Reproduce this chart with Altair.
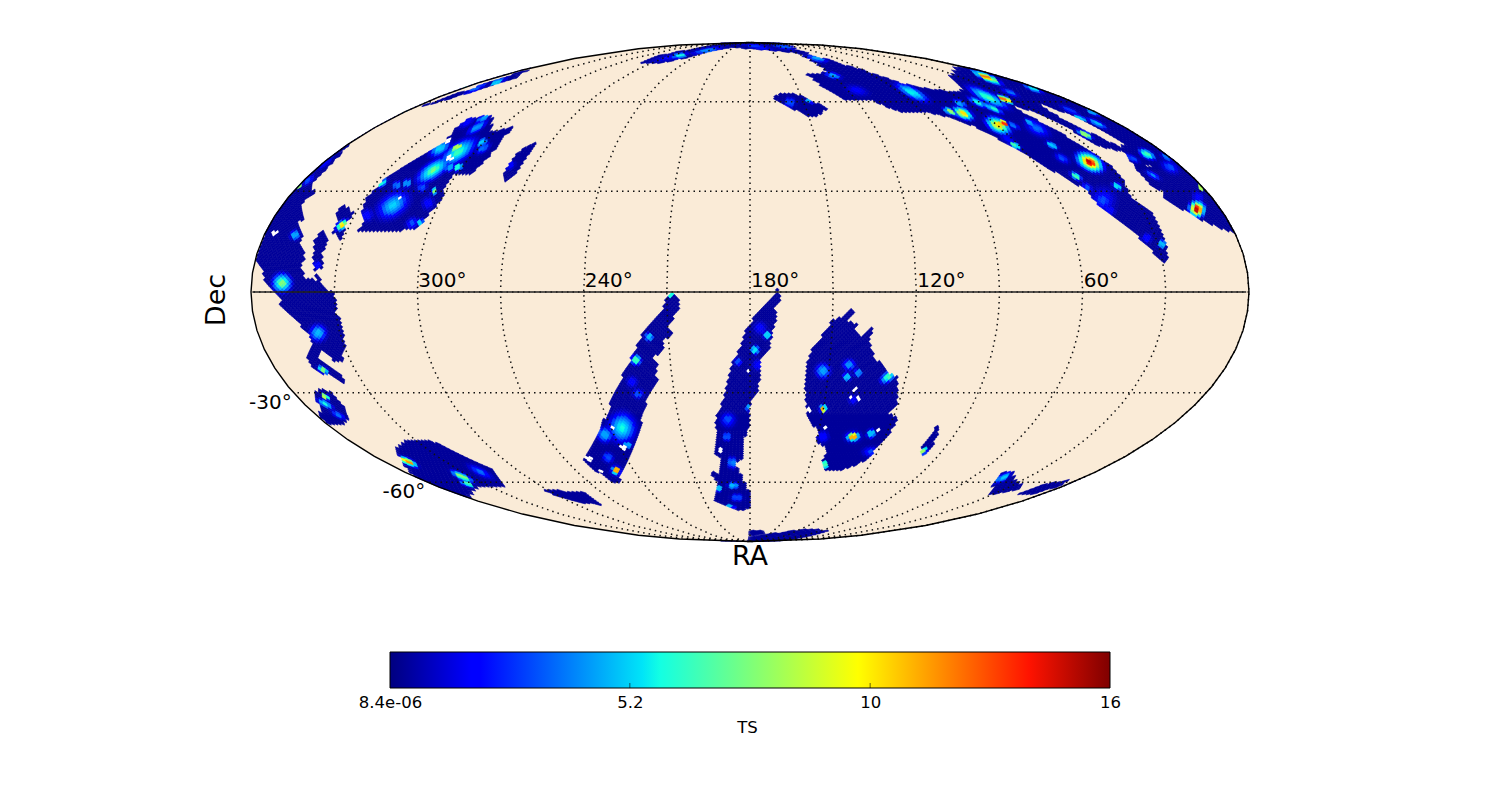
import math
import altair as alt

# Sky map. Plane units: origin at (RA 180, Dec 0), x towards low RA,
# y towards the north; the Mollweide ellipse has half axes 499 and 250 in these units.
HALF_W, HALF_H = 499.0, 250.0
NSIDE = 64

west_limb = [(-403,146),(-420,127),(-435,112),(-439,105),(-435,100),(-448,89),(-447,72),(-452,70),(-448,54),(-450,49),(-445,35),(-450,25),(-445,14),(-435,12),(-417,-1),(-414,-8),(-414,-21),(-408,-31),(-405,-55),(-408,-69),(-418,-69),(-420,-63),(-427,-58),(-432,-66),(-412,-80),(-406,-88),(-407,-91),(-420,-83),(-430,-81),(-438,-75),(-443,-65),(-437,-51),(-442,-41),(-457,-26),(-471,-11),(-467,-8),(-477,0),(-487,12),(-485,15),(-492,30),(-510,37),(-505,55),(-495,72),(-485,87),(-472,102),(-458,115),(-444,127),(-430,137)]
column_b = [(-428,61),(-422,50),(-428,39),(-427,25),(-435,22),(-437,35),(-435,52)]
nub_b = [(-435,19),(-427,12),(-433,7)]
blob_c = [(-407,87),(-397,80),(-404,67),(-409,51),(-417,60),(-412,72),(-415,78)]
field_d = [(-391,62),(-362,61),(-333,63),(-307,95),(-305,105),(-297,117),(-280,117),(-263,134),(-238,165),(-260,160),(-258,177),(-280,174),(-293,165),(-303,152),(-340,129),(-367,112),(-383,94),(-388,80),(-387,70)]
sliver_e = [(-213,151),(-233,139),(-247,119),(-245,110),(-233,120)]
streak_f = [(-332,185),(-223,223),(-240,212),(-303,193)]
north_band = [(-107,230),(-90,237),(-50,245),(0,252),(23,252),(63,237),(90,229),(123,219),(150,209),(180,203),(205,200),(213,202),(202,215),(208,225),(225,225),(275,212),(332,192),(375,172),(425,142),(460,112),(485,82),(505,52),(508,44),(482,60),(460,68),(447,74),(413,95),(413,102),(403,104),(390,119),(375,139),(370,142),(347,147),(317,165),(285,180),(265,187),(265,184),(283,174),(303,164),(330,147),(343,139),(360,127),(373,112),(383,92),(400,82),(410,65),(417,45),(417,32),(413,30),(387,57),(360,79),(343,92),(337,102),(297,125),(257,149),(223,167),(193,177),(177,180),(157,180),(140,184),(123,192),(97,192),(90,195),(72,207),(57,219),(70,219),(78,221),(65,230),(47,240),(20,242),(0,244),(-20,245),(-55,237),(-85,230)]
island_i = [(23,194),(33,199),(50,197),(77,184),(67,177),(60,175),(43,184)]
blob_j = [(-428,-98),(-417,-100),(-415,-105),(-405,-115),(-403,-126),(-407,-133),(-422,-131),(-428,-126),(-435,-101)]
field_k = [(-353,-158),(-342,-148),(-313,-151),(-280,-168),(-257,-178),(-247,-194),(-270,-195),(-278,-198),(-282,-206),(-330,-188),(-340,-181),(-345,-173)]
sliver_l = [(-210,-198),(-167,-201),(-149,-213),(-167,-211),(-190,-205)]
stripe_m = [(-78,-1),(-72,-6),(-70,-16),(-77,-26),(-82,-36),(-78,-41),(-87,-50),(-85,-56),(-97,-66),(-92,-73),(-95,-81),(-92,-88),(-103,-106),(-105,-118),(-117,-153),(-132,-190),(-137,-190),(-160,-175),(-166,-167),(-148,-135),(-142,-120),(-138,-108),(-130,-90),(-110,-48),(-107,-41),(-87,-16),(-88,-13)]
stripe_n = [(28,3),(31,-6),(25,-16),(27,-26),(22,-41),(20,-55),(10,-66),(10,-86),(7,-100),(0,-113),(0,-133),(-7,-150),(-7,-165),(-15,-173),(-8,-186),(-1,-201),(0,-216),(-10,-220),(-35,-210),(-32,-190),(-38,-183),(-37,-180),(-30,-183),(-28,-166),(-35,-163),(-33,-126),(-27,-108),(-23,-90),(-18,-73),(-10,-55),(-3,-36),(10,-18)]
tick_o = [(0,-240),(13,-238),(13,-242),(0,-244)]
south_arc_p = [(0,-252),(30,-251),(75,-240),(60,-237),(30,-241),(2,-245)]
field_q = [(102,-17),(105,-21),(97,-28),(107,-33),(105,-38),(113,-45),(122,-36),(120,-50),(123,-63),(137,-80),(147,-85),(147,-113),(137,-121),(147,-126),(140,-141),(130,-151),(118,-168),(93,-178),(75,-178),(73,-168),(78,-158),(68,-150),(68,-140),(58,-123),(55,-98),(57,-70),(62,-58),(75,-40),(83,-28),(90,-26)]
sliver_r = [(187,-135),(188,-145),(173,-165),(171,-161),(175,-150)]
sliver_s = [(243,-191),(253,-181),(263,-181),(265,-190),(272,-193),(267,-198),(242,-203),(245,-195)]
sliver_t = [(270,-201),(293,-193),(322,-188),(307,-195),(277,-204)]
coverage = [west_limb, column_b, nub_b, blob_c, field_d, sliver_e, streak_f, north_band, island_i, blob_j,
            field_k, sliver_l, stripe_m, stripe_n, tick_o, south_arc_p, field_q, sliver_r, sliver_s, sliver_t]

gap_upper = [(288,190),(317,179),(350,164),(377,147),(370,145),(350,155),(317,170),(293,185)]
gap_small = [(395,129),(403,125),(400,124),(394,127)]
gaps = [gap_upper, gap_small]

# Hot spots: (x, y, half length, half width, peak TS)
spots_west = [(-468,9,10,10,8),(-455,57,5,5,4),(-425,129,10,3,2),(-442,112,8,4,2.5),(-452,107,3,1.5,12),(-432,-41,9,9,4.5),(-433,27,4,4,2),(-408,67,7,4,11)]
spots_north_west = [(-357,87,19,12,5.2),(-317,122,20,8,8),(-292,140,22,9,7),(-293,145,5,2,10),(-310,144,12,7,5),(-273,165,12,4,4),(-267,174,8,3,4),(-353,107,4,4,3),(-368,109,6,3,6),(-292,125,4,3,6),(-268,150,4,3,5),(-267,144,8,4,3),(-338,69,7,6,2.5),(-330,70,3,3,5),(-322,89,7,7,2),(-383,77,7,7,2),(-343,109,4,4,3.5),(-328,105,6,5,2.5),(-300,125,5,4,4),(-316,101,3,2,8),(-283,170,10,4,2),(-240,127,5,4,2),(-253,210,8,2,5),(-273,205,15,3,3)]
spots_arc_left = [(-70,237,5,2,6),(-43,242,15,2,4),(-80,235,20,3,2)]
spots_arc_right = [(7,246,20,2,2.5),(33,246,10,2,3),(67,234,10,3,4),(83,217,8,3,4),(107,202,12,5,2),(60,192,4,2,4),(40,190,5,5,2.5)]
spots_north_east = [(162,200,18,5,6.5),(237,215,14,3,13),(238,195,22,5,7.5),(255,193,7,2,14.5),(228,190,10,3,6),(243,184,10,2,6.5),(210,189,6,3,4),(213,179,10,5,11),(200,181,6,1.5,8.5),(248,167,13,7,11),(253,169,4,1.5,14),(263,167,7,2,3),(265,147,6,2,7),(257,154,8,4,2),(287,164,14,7,3),(280,170,5,2,4),(302,147,6,2.5,5),(312,134,8,4,2.5),(340,130,14,8,15),(326,116,6,3,7),(337,105,6,4,2.5),(353,92,14,14,2.5),(367,106,5,3,5.5),(360,82,6,5,2),(392,92,4,2,4),(387,53,3,2,7),(412,48,4,4,4.5),(397,54,5,5,2),(447,83,8,8,15),(448,95,6,6,2),(451,105,3,1,9),(260,200,8,2,3),(283,204,8,1.5,5.5),(320,182,10,2,2.5),(330,174,6,1.5,5),(347,169,10,1.5,4.5),(343,180,5,1.5,4),(335,158,7,1.5,9.5),(397,138,8,4,7),(382,134,8,3,2.5),(403,117,8,3,3.5),(420,125,10,6,2.5),(417,135,6,3,3)]
spots_stripes = [(-79,-3,2,2,6),(-101,-45,4,4,4.5),(-114,-68,5,5,6.8),(-118,-90,6,6,2),(-112,-102,6,5,2.5),(-128,-136,14,16,6),(-145,-143,8,8,4),(-122,-153,4,3,4),(-142,-166,5,5,2.5),(-134,-179,6,6,2.5),(-134,-179,3,3,12),(10,-36,7,7,2),(17,-43,4,4,5),(5,-58,4,4,5.5),(-12,-70,4,4,2.5),(8,-73,6,6,2),(-22,-128,8,8,2.5),(-1,-116,3,3,4),(-23,-145,4,4,2.5),(-18,-171,4,6,3.5),(-17,-194,5,3,4.5),(-13,-206,6,4,2.5),(-22,-216,6,3,7.5),(-31,-197,2,1,4.5),(73,-79,8,8,4),(99,-73,7,6,3.5),(97,-85,4,4,4.5),(108,-81,4,4,3.5),(73,-117,5,5,2),(73,-117,3,3,12),(103,-145,9,6,2.5),(103,-145,6,4,12),(121,-142,4,4,4.5),(121,-160,9,5,2.5),(73,-145,6,6,2),(75,-173,3,3,7),(103,-108,5,5,1.8)]
spots_south_east = [(138,-85,9,5,7),(173,-159,3,3,8.5),(253,-186,9,3,5)]
spots_south_west = [(-427,-78,6,3,8),(-425,-112,9,3,6),(-425,-105,4,1,9),(-412,-123,8,3,3),(-342,-170,9,3,12.5),(-288,-185,11,3,9),(-283,-192,5,1,7),(-270,-180,14,4,3)]
spot_groups = [(spots_west,40),(spots_north_west,35),(spots_arc_left,12),(spots_arc_right,-15),(spots_north_east,-28),(spots_stripes,0),(spots_south_east,35),(spots_south_west,-28)]

white_specks = [(-475,59),(-350,94),(-303,152),(-300,135),(105,-98),(101,-105),(109,-107),(128,-138),(75,-136),(60,-118),(-30,-158),(-3,-79),(-127,-156),(-150,-181),(-161,-167),(-138,-136)]

BASE_TS = 0.4
JET_TS = [0,1.8,2.0,5.6,6.0,8,10.4,14.2,16]
JET_COLORS = ["#00007f","#0000ff","#0000ff","#00e4f8","#13ffe3","#7dff7a","#ffff00","#ff1300","#7f0000"]

ra_ticks = [300,240,180,120,60]
dec_ticks = [-30,-60]
cbar_ticks = [8.4e-06,5.33,10.67,16]
cbar_min, cbar_max = 8.4e-06, 16


def to_plane(ra, dec):
    lat = math.radians(dec)
    theta = lat
    for _ in range(12):
        den = 2 + 2 * math.cos(2 * theta)
        if den < 1e-6:
            break
        theta -= (2 * theta + math.sin(2 * theta) - math.pi * math.sin(lat)) / den
    return (-(ra - 180) / 180 * HALF_W * math.cos(theta), HALF_H * math.sin(theta))


def inside(px, py, pts):
    hit = False
    n = len(pts)
    for i in range(n):
        x1, y1 = pts[i]
        x2, y2 = pts[(i + 1) % n]
        if (y1 > py) != (y2 > py) and px < x1 + (py - y1) * (x2 - x1) / (y2 - y1):
            hit = not hit
    return hit


def bbox(pts):
    xs, ys = zip(*pts)
    return min(xs), max(xs), min(ys), max(ys)


cover_boxes = [(bbox(p), p) for p in coverage]
gap_boxes = [(bbox(p), p) for p in gaps]


def in_any(x, y, boxes):
    for (a, b, c, d), p in boxes:
        if a <= x <= b and c <= y <= d and inside(x, y, p):
            return True
    return False


spot_table = []
for spots, tilt in spot_groups:
    c, s = math.cos(math.radians(tilt)), math.sin(math.radians(tilt))
    for x, y, a, b, peak in spots:
        spot_table.append((x, y, max(a, 2.5) * 1.35, max(b, 2.5) * 1.35, c, s, peak))


def level(x, y):
    v = BASE_TS
    for sx, sy, a, b, c, s, peak in spot_table:
        dx, dy = x - sx, y - sy
        if abs(dx) > 40 or abs(dy) > 40:
            continue
        u = dx * c + dy * s
        w = -dx * s + dy * c
        d = math.hypot(u / a, w / b)
        if d < 1:
            flat = min(0.5, 2.2 / max(a, b))
            k = 1.0 if d < flat else (1 - (d - flat) / (1 - flat)) ** 1.7
            v = max(v, BASE_TS + (peak - BASE_TS) * k)
    return round(v, 2)


def z_of_ring(i):
    ns = NSIDE
    if i <= 0:
        return 1.0
    if i >= 4 * ns:
        return -1.0
    if i < ns:
        return 1 - i * i / (3 * ns * ns)
    if i <= 3 * ns:
        return (2 * ns - i) * 2 / (3 * ns)
    k = 4 * ns - i
    return -1 + k * k / (3 * ns * ns)


def ring_phis(i):
    ns = NSIDE
    if i < ns:
        n, off = 4 * i, 0.5
    elif i <= 3 * ns:
        n, off = 4 * ns, (0.5 if (i - ns) % 2 == 0 else 0.0)
    else:
        n, off = 4 * (4 * ns - i), 0.5
    return n, off


def cell(ra, dec, half, dec_n, dec_s, ts):
    ring = [[ra, dec_n], [ra + half, dec], [ra, dec_s], [ra - half, dec], [ra, dec_n]]
    ring = [[round(a, 3), round(b, 3)] for a, b in ring]
    return {"type": "Feature", "properties": {"TS": ts}, "geometry": {"type": "Polygon", "coordinates": [ring]}}


features, white_cells = [], []
for i in range(1, 4 * NSIDE):
    z = z_of_ring(i)
    dec = math.degrees(math.asin(z))
    dec_n = math.degrees(math.asin(z_of_ring(i - 1)))
    dec_s = math.degrees(math.asin(z_of_ring(i + 1)))
    n, off = ring_phis(i)
    half = 180.0 / n
    if abs(z) > 0.6:
        half *= 1.45
    for j in range(n):
        ra = (j + off) * 360.0 / n
        x, y = to_plane(ra, dec)
        if not in_any(x, y, cover_boxes) or in_any(x, y, gap_boxes):
            continue
        if any(abs(x - hx) < 2.0 and abs(y - hy) < 1.7 for hx, hy in white_specks):
            white_cells.append(cell(ra, dec, half, dec_n, dec_s, None))
        else:
            features.append(cell(ra, dec, half, dec_n, dec_s, level(x, y)))
features.sort(key=lambda f: f["properties"]["TS"])

jet = alt.Scale(domain=JET_TS, range=JET_COLORS)
sphere_fill = alt.Chart(alt.sphere()).mark_geoshape(fill="#faebd7", strokeWidth=0)
cells = alt.Chart(alt.Data(values=features)).mark_geoshape(strokeWidth=0.6).encode(
    color=alt.Color("properties.TS:Q", scale=jet, legend=None),
    stroke=alt.Stroke("properties.TS:Q", scale=jet, legend=None))
holes = alt.Chart(alt.Data(values=white_cells)).mark_geoshape(fill="white", strokeWidth=0)
grat = alt.Chart(alt.graticule(step=[30, 30], extent=[[-180, -90.01], [180, 90.01]])).mark_geoshape(
    filled=False, stroke="#111111", strokeWidth=1.5, strokeDash=[1.5, 4])
equator_line = {"type": "Feature", "properties": {}, "geometry": {"type": "LineString",
                "coordinates": [[lon, 0] for lon in range(1, 360, 10)] + [[359.5, 0]]}}
equator = alt.Chart(alt.Data(values=[equator_line])).mark_geoshape(filled=False, stroke="#222222", strokeWidth=1.6)
outline = alt.Chart(alt.sphere()).mark_geoshape(filled=False, stroke="black", strokeWidth=1.4)

ra_rows = [{"lon": r, "lat": 0, "label": f"{r}°"} for r in ra_ticks]
dec_rows = [{"lon": 359.9, "lat": d, "label": f"{d}°"} for d in dec_ticks]
ra_text = alt.Chart(alt.Data(values=ra_rows)).mark_text(
    font="DejaVu Sans", fontSize=20, align="left", baseline="bottom", dx=1, dy=-1, color="black"
).encode(longitude="lon:Q", latitude="lat:Q", text="label:N")
dec_text = alt.Chart(alt.Data(values=dec_rows)).mark_text(
    font="DejaVu Sans", fontSize=20, align="right", baseline="middle", dx=-2, dy=10, color="black"
).encode(longitude="lon:Q", latitude="lat:Q", text="label:N")
ra_title = alt.Chart(alt.Data(values=[{"t": "RA"}])).mark_text(
    font="DejaVu Sans", fontSize=27, color="black"
).encode(x=alt.value(742), y=alt.value(549), text="t:N")
dec_title = alt.Chart(alt.Data(values=[{"t": "Dec"}])).mark_text(
    font="DejaVu Sans", fontSize=27, angle=270, color="black"
).encode(x=alt.value(209), y=alt.value(292), text="t:N")

sky = alt.layer(sphere_fill, cells, holes, grat, equator, outline, ra_text, dec_text, ra_title, dec_title).project(
    type={"expr": "'mollweide'"}, scale=176.42, translate=[742, 284], rotate=[-180, 0, 0], reflectX=True
).properties(width=1484, height=590)

x_scale = alt.Scale(domain=[cbar_min, cbar_max], nice=False, zero=False)
stops = [alt.GradientStop(offset=t / 16, color=c) for t, c in zip(JET_TS, JET_COLORS)]
bar = alt.Chart(alt.Data(values=[{"a": cbar_min, "b": cbar_max}])).mark_rect(
    fill=alt.Gradient(gradient="linear", stops=stops, x1=0, x2=1, y1=0, y2=0), stroke="black", strokeWidth=1
).encode(
    x=alt.X("a:Q", scale=x_scale, axis=alt.Axis(
        values=cbar_ticks, tickSize=0, domain=False, grid=False, labelFont="DejaVu Sans", labelFontSize=16.5,
        labelColor="black", labelPadding=6, labelOverlap=False, labelFlush=False, labelBound=False,
        labelExpr="datum.value < 1 ? '8.4e-06' : datum.value < 6 ? '5.2' : datum.value < 11 ? '10' : '16'", title="TS",
        titleFont="DejaVu Sans", titleFontSize=16.5, titleFontWeight="normal", titleColor="black", titlePadding=9, titleX=357)),
    x2="b:Q")
ticks = alt.Chart(alt.Data(values=[{"v": v} for v in cbar_ticks[1:3]])).mark_rule(color="black", strokeWidth=0.6).encode(
    x=alt.X("v:Q", scale=x_scale), y=alt.value(31), y2=alt.value(36))
cbar = alt.layer(bar, ticks).properties(width=720, height=36)

chart = alt.vconcat(sky, cbar, spacing=54, center=True, bounds="flush").properties(padding=0).configure_view(strokeOpacity=0)
chart.save("out.html", embed_options={"renderer": "svg", "actions": False})
